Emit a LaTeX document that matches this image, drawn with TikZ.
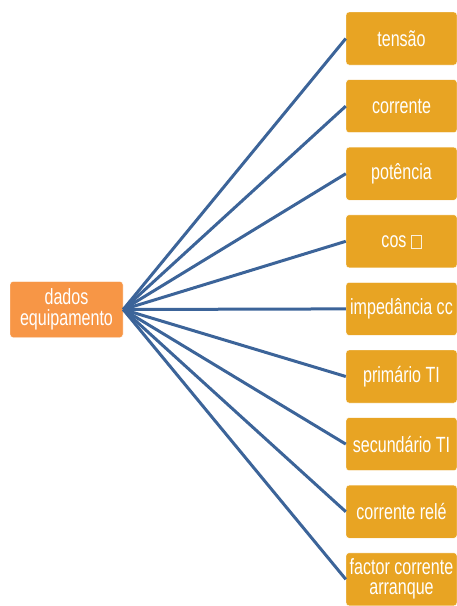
\documentclass[tikz,border=0pt]{standalone}
\usepackage{fontspec}
\setmainfont[FakeStretch=0.73]{Liberation Sans}
\usetikzlibrary{positioning}
\definecolor{hubfill}{HTML}{F79646}
\definecolor{leaffill}{HTML}{E8A423}
\definecolor{linkcol}{HTML}{3C6499}
\tikzset{
  hub/.style={draw=white,fill=hubfill,rounded corners=3pt,text=white,
    minimum width=113pt,minimum height=56pt,align=center,inner sep=1pt,
    font=\fontsize{22}{21}\selectfont},
  leaf/.style={draw=white,fill=leaffill,rounded corners=3pt,text=white,
    minimum width=111pt,minimum height=53pt,align=center,inner sep=0pt,
    font=\fontsize{22}{20}\selectfont},
  link/.style={linkcol,line width=3pt}
}
\newcommand{\glyphbox}{\tikz[baseline=0pt]\draw[white!85!leaffill,line width=0.6pt,sharp corners] (0,0) rectangle (10pt,13pt);}
\begin{document}
\begin{tikzpicture}[x=1pt,y=-1pt]
\useasboundingbox (0,0) rectangle (457,606);

% hub
\node[hub] (dados) at (66.5,309.5) {dados\\equipamento};

% leaves
\foreach \i/\txt in {0/tens\~ao,1/corrente,2/pot\^encia,3/cos \glyphbox,
    4/imped\^ancia cc,5/prim\'ario TI,6/secund\'ario TI,7/corrente rel\'e,
    8/factor corrente\\arranque}{
  \node[leaf] (leaf\i) at (401.5,{38.5+67.6*\i}) {\txt};
  \draw[link] (dados.east) -- (leaf\i.west);
}
\end{tikzpicture}
\end{document}
